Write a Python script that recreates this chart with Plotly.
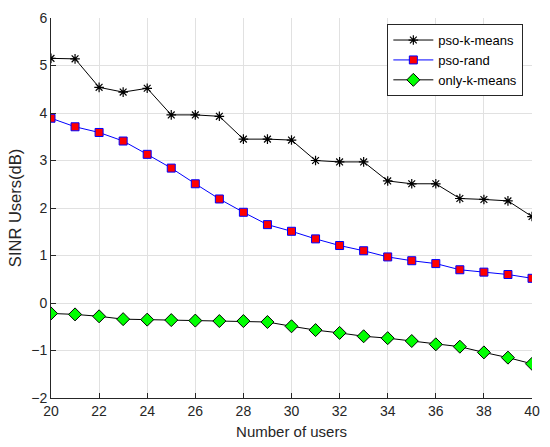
import plotly.graph_objects as go

users = list(range(20, 41))
pso_kmeans = [5.15, 5.14, 4.54, 4.44, 4.52, 3.96, 3.96, 3.93, 3.45, 3.45, 3.43,
              3.00, 2.97, 2.97, 2.57, 2.51, 2.51, 2.20, 2.18, 2.15, 1.82]
pso_rand = [3.89, 3.71, 3.59, 3.41, 3.13, 2.84, 2.51, 2.19, 1.91, 1.65, 1.51,
            1.35, 1.21, 1.10, 0.97, 0.89, 0.83, 0.70, 0.65, 0.60, 0.52]
only_kmeans = [-0.22, -0.24, -0.28, -0.34, -0.35, -0.36, -0.37, -0.38, -0.38, -0.40, -0.49,
               -0.57, -0.63, -0.70, -0.74, -0.80, -0.87, -0.92, -1.04, -1.15, -1.28]
x_ticks = list(range(20, 41, 2))
y_ticks = list(range(-2, 7))

FONT = "Liberation Sans, Arial, sans-serif"
AX_COL = "#262626"

fig = go.Figure()
fig.add_trace(go.Scatter(
    x=users, y=pso_kmeans, name="pso-k-means", mode="lines+markers",
    line=dict(color="black", width=1),
    marker=dict(symbol="asterisk", size=8, color="black",
                line=dict(color="black", width=1.2))))
fig.add_trace(go.Scatter(
    x=users, y=pso_rand, name="pso-rand", mode="lines+markers",
    line=dict(color="blue", width=1),
    marker=dict(symbol="square", size=8, color="red",
                line=dict(color="blue", width=1))))
fig.add_trace(go.Scatter(
    x=users, y=only_kmeans, name="only-k-means", mode="lines+markers",
    line=dict(color="black", width=1),
    marker=dict(symbol="diamond", size=10, color="#00ff00",
                line=dict(color="black", width=1))))

axis_common = dict(
    showgrid=True, gridcolor="#e1e1e1", gridwidth=1,
    showline=True, linecolor=AX_COL, linewidth=1, mirror=False,
    ticks="inside", ticklen=5, tickcolor=AX_COL,
    tickfont=dict(family=FONT, size=14, color=AX_COL),
    zeroline=False,
)

fig.update_xaxes(range=[20, 40], tickvals=x_ticks,
                 title=dict(text="Number of users",
                            font=dict(family=FONT, size=15, color=AX_COL),
                            standoff=8),
                 **axis_common)
fig.update_yaxes(range=[-2, 6], tickvals=y_ticks,
                 title=dict(text="SINR Users(dB)",
                            font=dict(family=FONT, size=16.5, color=AX_COL),
                            standoff=5),
                 **axis_common)

fig.update_layout(
    width=550, height=447,
    margin=dict(l=51, r=10, t=14, b=48),
    paper_bgcolor="white", plot_bgcolor="white",
    showlegend=True,
    legend=dict(x=0.982, y=0.984, xanchor="right", yanchor="top",
                bgcolor="white", bordercolor=AX_COL, borderwidth=1,
                font=dict(family=FONT, size=13, color="black"),
                tracegroupgap=0, itemwidth=40),
    font=dict(family=FONT),
)

fig.write_html("out.html")
